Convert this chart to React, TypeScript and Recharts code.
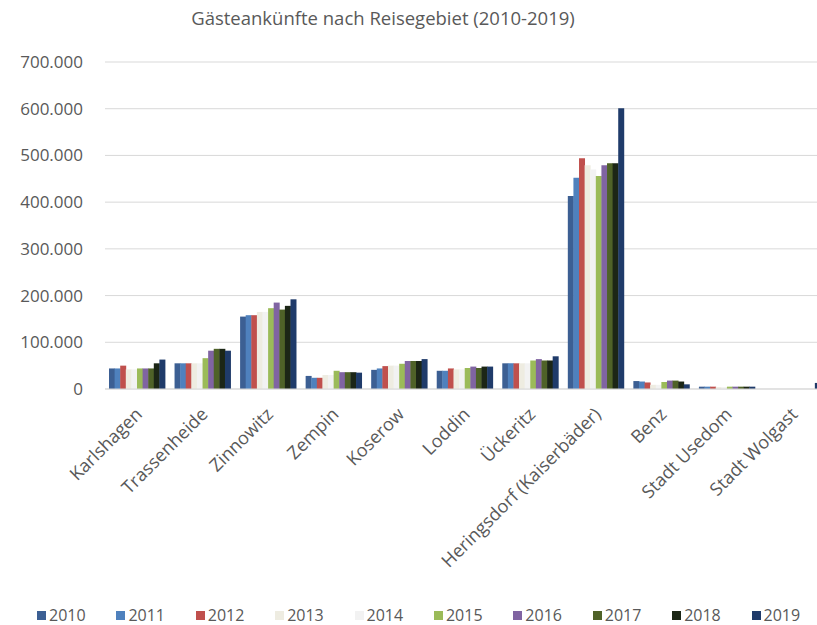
import { BarChart, Bar, XAxis, YAxis, CartesianGrid } from "recharts"

const categories = [
  "Karlshagen",
  "Trassenheide",
  "Zinnowitz",
  "Zempin",
  "Koserow",
  "Loddin",
  "Ückeritz",
  "Heringsdorf (Kaiserbäder)",
  "Benz",
  "Stadt Usedom",
  "Stadt Wolgast",
]

const years = ["2010", "2011", "2012", "2013", "2014", "2015", "2016", "2017", "2018", "2019"]

// Gästeankünfte je Jahr, gleiche Reihenfolge wie categories
const v2010 = [44000, 55000, 155000, 28000, 41000, 39000, 55000, 413000, 17000, 5000, 0]
const v2011 = [44000, 55000, 158000, 24000, 44000, 39000, 55000, 452000, 16000, 5000, 0]
const v2012 = [50000, 55000, 158000, 24000, 49000, 44000, 55000, 494000, 14000, 5000, 0]
const v2013 = [42000, 55000, 165000, 30000, 50000, 42000, 55000, 479000, 9000, 4000, 0]
const v2014 = [42000, 55000, 165000, 30000, 50000, 42000, 55000, 470000, 9000, 4000, 0]
const v2015 = [44000, 66000, 173000, 39000, 54000, 45000, 61000, 456000, 15000, 5000, 0]
const v2016 = [44000, 82000, 185000, 36000, 60000, 48000, 64000, 479000, 18000, 5000, 0]
const v2017 = [44000, 86000, 170000, 36000, 60000, 45000, 61000, 483000, 18000, 5000, 0]
const v2018 = [55000, 86000, 178000, 36000, 60000, 48000, 61000, 483000, 16000, 5000, 0]
const v2019 = [63000, 82000, 192000, 35000, 64000, 48000, 70000, 601000, 10000, 5000, 13000]

const yearValues = [v2010, v2011, v2012, v2013, v2014, v2015, v2016, v2017, v2018, v2019]

const colors = [
  "#3c5f93",
  "#4f81bd",
  "#c0504d",
  "#eeece1",
  "#f2f2f2",
  "#9bbb59",
  "#8064a2",
  "#4f6228",
  "#1c2616",
  "#1f3b6a",
]

const yTicks = [0, 100000, 200000, 300000, 400000, 500000, 600000, 700000]

const data = categories.map((name, i) => {
  const row: Record<string, string | number> = { name }
  years.forEach((y, j) => {
    row[y] = yearValues[j][i]
  })
  return row
})

const font = "'Open Sans', sans-serif"
const textColor = "#595959"

const formatThousands = (v: number) =>
  v === 0 ? "0" : v.toLocaleString("de-DE")

function CategoryTick({ x, y, payload }: any) {
  return (
    <g transform={`translate(${x + 1},${y + 14})`}>
      <text
        textAnchor="end"
        transform="rotate(-45)"
        dy="0.35em"
        fill={textColor}
        fontSize={18}
        fontFamily={font}
      >
        {payload.value}
      </text>
    </g>
  )
}

export default function App() {
  return (
    <div
      style={{
        position: "absolute",
        left: 0,
        top: 0,
        width: 817,
        height: 625,
        overflow: "hidden",
        background: "#fff",
      }}
    >
      <div
        style={{
          position: "absolute",
          top: 5,
          left: 0,
          width: 766,
          textAlign: "center",
          fontFamily: font,
          fontSize: 18.5,
          color: textColor,
        }}
      >
        Gästeankünfte nach Reisegebiet (2010-2019)
      </div>
      <BarChart
        width={836}
        height={625}
        data={data}
        margin={{ top: 62, right: 10, left: 15, bottom: 36 }}
        barCategoryGap={4}
        barGap={-0.4}
      >
        <CartesianGrid vertical={false} stroke="#d9d9d9" />
        <XAxis
          dataKey="name"
          interval={0}
          height={200}
          tickLine={false}
          axisLine={{ stroke: "#d9d9d9" }}
          tick={<CategoryTick />}
        />
        <YAxis
          width={90}
          domain={[0, 700000]}
          ticks={yTicks}
          tickFormatter={formatThousands}
          axisLine={false}
          tickLine={false}
          tickMargin={16}
          tick={{ fill: textColor, fontSize: 17, fontFamily: font }}
        />
        {years.map((y, i) => (
          <Bar key={y} dataKey={y} fill={colors[i]} isAnimationActive={false} />
        ))}
      </BarChart>
      <div
        style={{
          position: "absolute",
          top: 604,
          left: 37,
          display: "flex",
          fontFamily: font,
          fontSize: 16,
          color: textColor,
        }}
      >
        {years.map((y, i) => (
          <div key={y} style={{ width: 79.4, display: "flex", alignItems: "center" }}>
            <span
              style={{
                width: 9,
                height: 9,
                background: colors[i],
                marginRight: 3,
                display: "inline-block",
              }}
            />
            {y}
          </div>
        ))}
      </div>
    </div>
  )
}
